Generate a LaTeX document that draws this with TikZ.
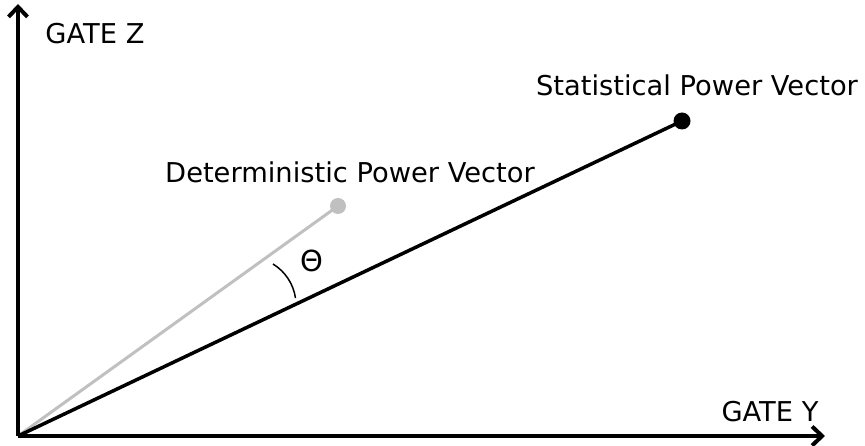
\documentclass[tikz,border=0pt]{standalone}
\usepackage{fontspec}
\setmainfont{DejaVu Sans}
\usetikzlibrary{arrows.meta}
\begin{document}
\begin{tikzpicture}[x=1pt,y=-1pt,
  axis/.style={line width=4pt,-{Straight Barb[length=10pt,width=19pt,line width=4pt]}},
  lbl/.style={font=\fontsize{27.3}{32}\selectfont,inner sep=0pt},
  detvec/.style={line width=3pt,draw={rgb,255:red,192;green,192;blue,192}},
  statvec/.style={line width=3.5pt,draw=black},
  dotg/.style={circle,fill={rgb,255:red,192;green,192;blue,192},minimum size=16pt,inner sep=0pt},
  dotb/.style={circle,fill=black,minimum size=17pt,inner sep=0pt}]
\useasboundingbox (0,0) rectangle (865,446);
\coordinate (O) at (18,436);
\coordinate (ytip) at (18,4);
\coordinate (xtip) at (825,436);
\coordinate (ac) at (248,305);
\node[dotg] (D) at (338,206) {};
\node[dotb] (S) at (682,121) {};
\draw[detvec] (O) -- (D.center);
\draw[statvec] (O) -- (S.center);
\draw[axis] (O) -- (ytip);
\draw[axis] (O) -- (xtip);
\draw[line width=1.5pt] (ac) ++(-8.3:48) arc[start angle=-8.3,end angle=-58.6,radius=48];
\node[lbl] (gz) at (95,34) {GATE Z};
\node[lbl] (gy) at (770,412) {GATE Y};
\node[lbl] (sl) at (697,85) {Statistical Power Vector};
\node[lbl] (dl) at (350,172) {Deterministic Power Vector};
\node[lbl,font=\fontsize{29}{34}\selectfont] (th) at (312,261) {Θ};
\end{tikzpicture}
\end{document}
